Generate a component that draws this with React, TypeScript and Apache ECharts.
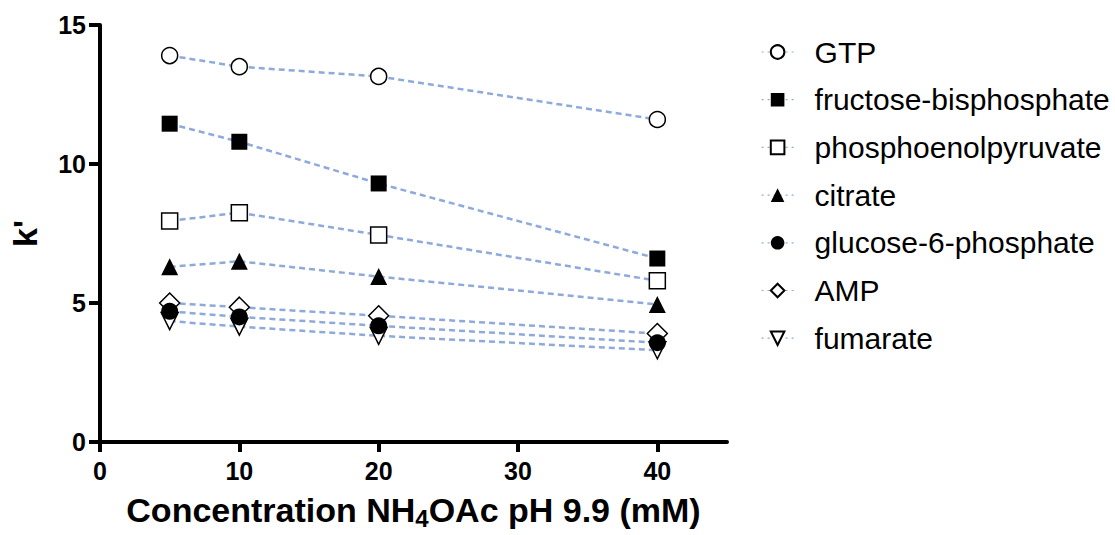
import React, { useEffect, useRef } from "react";
import * as echarts from "echarts";

const xValues = [5, 10, 20, 40];
const seriesNames = [
  "GTP",
  "fructose-bisphosphate",
  "phosphoenolpyruvate",
  "citrate",
  "glucose-6-phosphate",
  "AMP",
  "fumarate",
];
const gtp = [13.9, 13.5, 13.15, 11.6];
const fructoseBisphosphate = [11.45, 10.8, 9.3, 6.6];
const phosphoenolpyruvate = [7.95, 8.25, 7.45, 5.8];
const citrate = [6.3, 6.5, 5.95, 4.95];
const glucose6Phosphate = [4.7, 4.5, 4.18, 3.57];
const amp = [5.0, 4.85, 4.54, 3.9];
const fumarate = [4.35, 4.15, 3.82, 3.3];
const xTicks = [0, 10, 20, 30, 40];

const FONT = "'Liberation Sans', Arial, sans-serif";
const LINE_COLOR = "#8eaadb";

type MarkerStyle = {
  symbol: string;
  size: number | number[];
  filled: boolean;
  rotate?: number;
};

const markers: MarkerStyle[] = [
  { symbol: "circle", size: 16, filled: false },
  { symbol: "rect", size: 16, filled: true },
  { symbol: "rect", size: 16, filled: false },
  { symbol: "triangle", size: 17, filled: true },
  { symbol: "circle", size: 17, filled: true },
  { symbol: "diamond", size: [20, 20], filled: false },
  { symbol: "triangle", size: 17, filled: false, rotate: 180 },
];

const allValues = [
  gtp,
  fructoseBisphosphate,
  phosphoenolpyruvate,
  citrate,
  glucose6Phosphate,
  amp,
  fumarate,
];

export default function App() {
  const ref = useRef<HTMLDivElement>(null);
  useEffect(() => {
    if (!ref.current) return;
    const chart = echarts.init(ref.current, undefined, { renderer: "svg" });
    const series = seriesNames.map((name, i) => {
      const m = markers[i];
      return {
        name,
        type: "line",
        data: xValues.map((x, j) => [x, allValues[i][j]]),
        symbol: m.symbol,
        symbolSize: m.size,
        symbolRotate: m.rotate ?? 0,
        showAllSymbol: true,
        lineStyle: { color: LINE_COLOR, width: 2.5, type: [6, 4] },
        itemStyle: {
          color: m.filled ? "#000" : "#fff",
          borderColor: "#000",
          borderWidth: m.filled ? 0 : 1.5,
        },
        z: 10 - i,
      };
    });
    chart.setOption({
      animation: false,
      backgroundColor: "#fff",
      textStyle: { fontFamily: FONT },
      grid: { left: 97, right: 388, top: 25, bottom: 90 },
      legend: {
        orient: "vertical",
        left: 756,
        top: 32,
        itemWidth: 32,
        itemHeight: 17,
        itemGap: 17.7,
        lineStyle: { width: 1.2, type: [2, 4] },
        textStyle: {
          fontFamily: FONT,
          fontSize: 30,
          color: "#000",
          lineHeight: 30,
          padding: [0, 0, 0, 16],
        },
        data: seriesNames,
      },
      xAxis: {
        type: "value",
        min: 0,
        max: 45,
        interval: 10,
        name: "{b|Concentration NH}{s|4}{b|OAc pH 9.9 (mM)}",
        nameLocation: "middle",
        nameGap: 48,
        nameTextStyle: {
          rich: {
            b: { fontFamily: FONT, fontSize: 34, fontWeight: "bold", color: "#000", lineHeight: 40 },
            s: { fontFamily: FONT, fontSize: 24, fontWeight: "bold", color: "#000", lineHeight: 22, verticalAlign: "bottom" },
          },
        },
        splitLine: { show: false },
        axisLine: { show: true, onZero: false, lineStyle: { color: "#000", width: 4 } },
        axisTick: { show: true, length: 10, customValues: xTicks, lineStyle: { color: "#000", width: 4 } },
        axisLabel: {
          customValues: xTicks,
          margin: 16,
          fontFamily: FONT,
          fontSize: 25,
          fontWeight: "bold",
          color: "#000",
        },
      },
      yAxis: {
        type: "value",
        min: 0,
        max: 15,
        interval: 5,
        name: "k'",
        nameLocation: "middle",
        nameGap: 58,
        nameTextStyle: { fontFamily: FONT, fontSize: 34, fontWeight: "bold", color: "#000" },
        splitLine: { show: false },
        axisLine: { show: true, onZero: false, lineStyle: { color: "#000", width: 4 } },
        axisTick: { show: true, length: 11, lineStyle: { color: "#000", width: 4 } },
        axisLabel: {
          margin: 14,
          fontFamily: FONT,
          fontSize: 25,
          fontWeight: "bold",
          color: "#000",
        },
      },
      series,
    });
    return () => chart.dispose();
  }, []);
  return (
    <div
      ref={ref}
      style={{ position: "fixed", left: 0, top: 0, width: 1115, height: 535 }}
    />
  );
}
